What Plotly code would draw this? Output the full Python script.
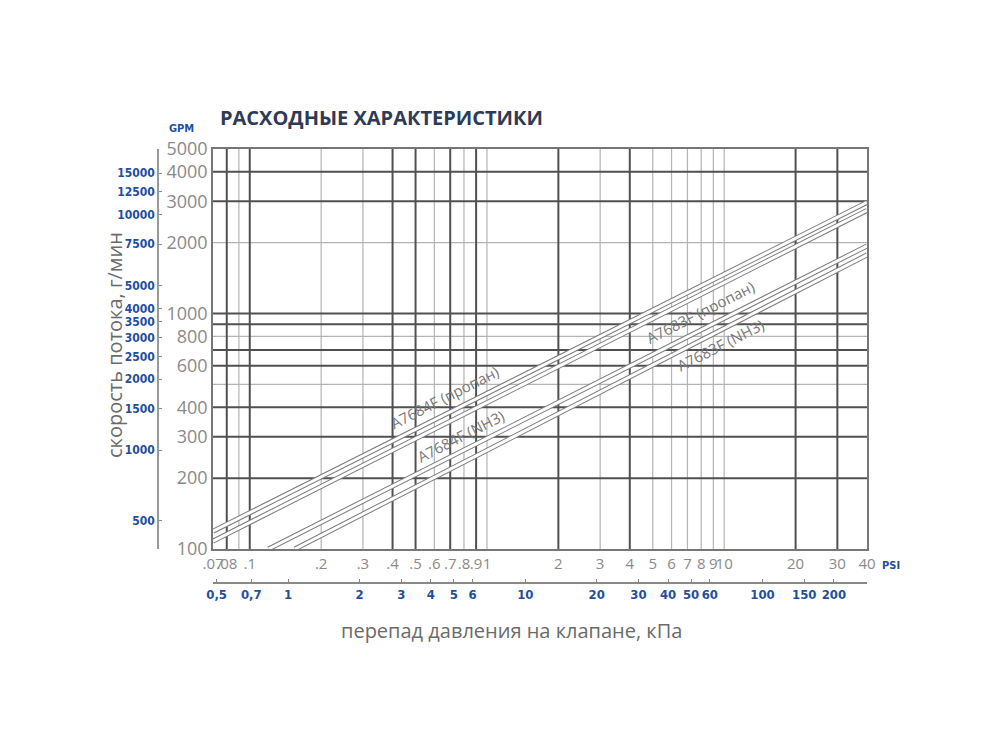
import numpy as np
import plotly.graph_objects as go

# ---------- data ----------
psi_ticks = [0.07, 0.08, 0.1, 0.2, 0.3, 0.4, 0.5, 0.6, 0.7, 0.8, 0.9, 1,
             2, 3, 4, 5, 6, 7, 8, 9, 10, 20, 30, 40]
psi_text = [".07", ".08", ".1", ".2", ".3", ".4", ".5", ".6", ".7", ".8", ".9", "1",
            "2", "3", "4", "5", "6", "7", "8", "9", "10", "20", "30", "40"]

kpa_ticks = [0.5, 0.7, 1, 2, 3, 4, 5, 6, 10, 20, 30, 40, 50, 60, 100, 150, 200]
kpa_text = ["0,5", "0,7", "1", "2", "3", "4", "5", "6", "10", "20", "30", "40",
            "50", "60", "100", "150", "200"]

gpm_ticks = [100, 200, 300, 400, 600, 800, 1000, 2000, 3000, 4000, 5000]
gmin_ticks = [500, 1000, 1500, 2000, 2500, 3000, 3500, 4000, 5000,
              7500, 10000, 12500, 15000]

# grid lines (dark / light as printed)
grid_psi_dark = [0.08, 0.1, 0.4, 0.5, 0.7, 0.9, 2, 4, 20, 30]
grid_psi_light = [0.09, 0.2, 0.3, 0.6, 0.8, 1, 3, 5, 6, 7, 8, 9, 10]
grid_gpm_dark = [200, 300, 400, 600, 700, 900, 1000, 3000, 4000]
grid_gpm_light = [500, 800, 2000]

# flow lines: end points (psi, GPM)
flow_names = ["A7684F (пропан)", "A7684F (NH3)", "A7683F (пропан)", "A7683F (NH3)"]
flow_psi = [[0.07, 40], [0.07, 40], [0.12, 40], [0.155, 40]]
flow_gpm = [[119, 2965], [108, 2742], [100, 1937], [100, 1774]]

# label position along each line (psi) and offset from it
label_psi = [0.663, 0.774, 7.94, 9.63]
label_shift = [18, -20, 18, -15]

PSI_RANGE = [0.07, 40]
GPM_RANGE = [100, 5000]
KPA_PER_PSI = 6.895
GMIN_PER_GPM = 3.8

GRAY = "#8a8a8a"
BLUE = "#1f4f9f"
SANS = "Open Sans, sans-serif"
NARROW = "Liberation Sans Narrow, DejaVu Sans Condensed, Arial Narrow, sans-serif"

fig = go.Figure()


def grid_trace(vals, vertical, color, width):
    xs, ys = [], []
    for v in vals:
        if vertical:
            xs += [v, v, None]
            ys += [GPM_RANGE[0], GPM_RANGE[1], None]
        else:
            xs += [PSI_RANGE[0], PSI_RANGE[1], None]
            ys += [v, v, None]
    return go.Scatter(x=xs, y=ys, mode="lines", line=dict(color=color, width=width),
                      hoverinfo="skip", showlegend=False)


fig.add_trace(grid_trace(grid_psi_light, True, "#b4b4b4", 1.2))
fig.add_trace(grid_trace(grid_gpm_light, False, "#b4b4b4", 1.2))
fig.add_trace(grid_trace(grid_psi_dark, True, "#505050", 2))
fig.add_trace(grid_trace(grid_gpm_dark, False, "#505050", 2))

# flow bands: gray outline + white core
for i in range(len(flow_names)):
    fig.add_trace(go.Scatter(x=flow_psi[i], y=flow_gpm[i], mode="lines",
                             line=dict(color="#7a7a7a", width=5),
                             hoverinfo="skip", showlegend=False))
    fig.add_trace(go.Scatter(x=flow_psi[i], y=flow_gpm[i], mode="lines",
                             line=dict(color="white", width=3),
                             hoverinfo="skip", showlegend=False))

# invisible traces so the secondary axes get drawn
fig.add_trace(go.Scatter(x=[kpa_ticks[0]], y=[GPM_RANGE[0]], xaxis="x2", yaxis="y",
                         mode="markers", marker=dict(opacity=0), hoverinfo="skip",
                         showlegend=False))
fig.add_trace(go.Scatter(x=[PSI_RANGE[0]], y=[gmin_ticks[0]], xaxis="x", yaxis="y2",
                         mode="markers", marker=dict(opacity=0), hoverinfo="skip",
                         showlegend=False))

# line labels
for i, name in enumerate(flow_names):
    lx = np.log10(label_psi[i])
    px = np.log10(flow_psi[i])
    py = np.log10(flow_gpm[i])
    ly = py[0] + (lx - px[0]) * (py[1] - py[0]) / (px[1] - px[0])
    fig.add_annotation(x=lx, y=ly, xref="x", yref="y", text=name, showarrow=False,
                       xanchor="center", yanchor="middle",
                       textangle=-27, yshift=label_shift[i],
                       font=dict(family=SANS, size=15, color="#777777"))

# page geometry (the page body adds an 8px margin)
PAD = 8
W, H = 1000 - 2 * PAD, 750 - 2 * PAD
L, T = 158 - PAD, 149 - PAD
R = W - (867 - PAD)
B = H - (583 - PAD)
pw, ph = W - L - R, H - T - B
x_dom0 = (213 - 158) / pw
y_dom0 = (583 - 549) / ph

log = np.log10
fig.update_layout(
    width=W, height=H,
    margin=dict(l=L, r=R, t=T, b=B, autoexpand=False),
    paper_bgcolor="white", plot_bgcolor="white",
    hovermode=False,
    xaxis=dict(type="log", range=[log(PSI_RANGE[0]), log(PSI_RANGE[1])],
               domain=[x_dom0, 1], anchor="y",
               tickmode="array", tickvals=psi_ticks, ticktext=psi_text, tickangle=0,
               showgrid=False, zeroline=False,
               showline=True, mirror=True, linecolor="#777777", linewidth=1.5,
               ticks="", tickfont=dict(family=SANS, size=15, color=GRAY)),
    yaxis=dict(type="log", range=[log(GPM_RANGE[0]), log(GPM_RANGE[1])],
               domain=[y_dom0, 1], anchor="x",
               tickmode="array", tickvals=gpm_ticks, ticktext=[str(v) for v in gpm_ticks],
               showgrid=False, zeroline=False,
               showline=True, mirror=True, linecolor="#777777", linewidth=1.5,
               ticks="", tickfont=dict(family=SANS, size=18, color=GRAY)),
    xaxis2=dict(type="log", overlaying="x", anchor="free", position=0, side="bottom",
                range=[log(PSI_RANGE[0] * KPA_PER_PSI), log(PSI_RANGE[1] * KPA_PER_PSI)],
                tickmode="array", tickvals=kpa_ticks, ticktext=kpa_text, tickangle=0,
                showgrid=False, zeroline=False,
                showline=True, linecolor="#888888", linewidth=1.5,
                ticks="inside", ticklen=3, tickcolor="#888888",
                tickfont=dict(family=NARROW, size=13, color=BLUE, weight="bold")),
    yaxis2=dict(type="log", overlaying="y", anchor="free", position=0, side="left",
                range=[log(GPM_RANGE[0] * GMIN_PER_GPM), log(GPM_RANGE[1] * GMIN_PER_GPM)],
                tickmode="array", tickvals=gmin_ticks,
                ticktext=[str(v) for v in gmin_ticks],
                showgrid=False, zeroline=False,
                showline=True, linecolor="#999999", linewidth=1.5,
                ticks="inside", ticklen=3, tickcolor="#888888",
                tickfont=dict(family=NARROW, size=12, color=BLUE, weight="bold")),
)


def px_x(p):
    return (p - PAD - L) / pw


def px_y(p):
    return (H + PAD - B - p) / ph


fig.add_annotation(x=px_x(218), y=px_y(117), xref="paper", yref="paper",
                   xanchor="left", yanchor="middle", showarrow=False,
                   text="<b>РАСХОДНЫЕ ХАРАКТЕРИСТИКИ</b>",
                   font=dict(family=SANS, size=20, color="#2f3a55"))
fig.add_annotation(x=px_x(181), y=px_y(128), xref="paper", yref="paper",
                   xanchor="center", yanchor="middle", showarrow=False, text="<b>GPM</b>",
                   font=dict(family=NARROW, size=11, color=BLUE))
fig.add_annotation(x=px_x(891), y=px_y(565), xref="paper", yref="paper",
                   xanchor="center", yanchor="middle", showarrow=False, text="<b>PSI</b>",
                   font=dict(family=NARROW, size=11, color=BLUE))
fig.add_annotation(x=px_x(114), y=px_y(345), xref="paper", yref="paper",
                   xanchor="center", yanchor="middle", showarrow=False, textangle=-90,
                   text="скорость потока, г/мин",
                   font=dict(family=SANS, size=20, color="#6a6a6a"))
fig.add_annotation(x=px_x(511), y=px_y(630), xref="paper", yref="paper",
                   xanchor="center", yanchor="middle", showarrow=False,
                   text="перепад давления на клапане, кПа",
                   font=dict(family=SANS, size=20, color="#6a6a6a"))

fig.write_html("out.html")
